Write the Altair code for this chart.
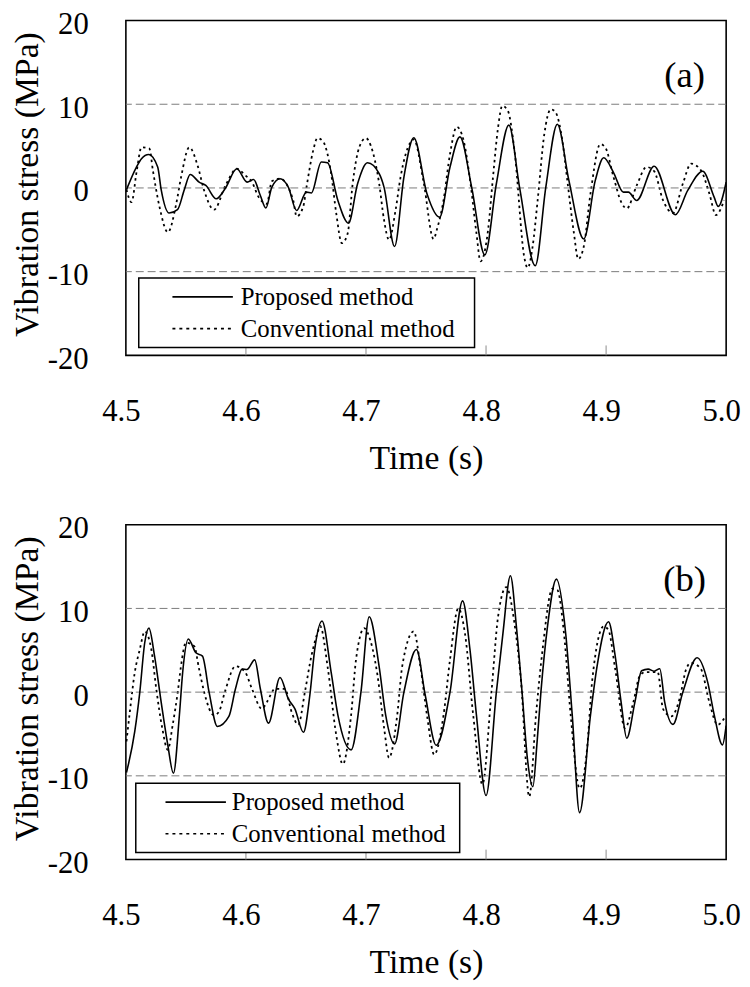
import altair as alt
import pandas as pd

# ---------------- data ----------------
TIME_TICKS = [4.5, 4.6, 4.7, 4.8, 4.9, 5.0]
INNER_TICKS = [4.6, 4.7, 4.8, 4.9]
STRESS_TICKS = [-20, -10, 0, 10, 20]
GRID_LEVELS = [-10, 0, 10]
LEGEND_LABELS = ["Proposed method", "Conventional method"]
PANEL_LABELS = ["(a)", "(b)"]

# Panel (a) - proposed method (solid)
A_PROP_T = [4.5005, 4.5088, 4.513, 4.519, 4.5265, 4.5294, 4.536, 4.543, 4.5487, 4.5536,
            4.561, 4.5666, 4.5753, 4.583, 4.5924, 4.601, 4.6064, 4.612, 4.6166, 4.6216,
            4.6284, 4.6353, 4.6422, 4.6504, 4.6545, 4.6628, 4.668, 4.6766, 4.6854, 4.693,
            4.7013, 4.711, 4.715, 4.7238, 4.7316, 4.7398, 4.7508, 4.7613, 4.770, 4.7783,
            4.788, 4.799, 4.8086, 4.819, 4.828, 4.841, 4.8498, 4.8594, 4.869, 4.8814,
            4.891, 4.898, 4.906, 4.9144, 4.9186, 4.9255, 4.940, 4.9577, 4.968, 4.9805,
            4.990, 4.9934, 5.000]
A_PROP_V = [-0.2, 2.5, 3.5, 4.0, 2.5, -0.2, -3.0, -2.6, -0.2, 1.6,
            0.7, 0.3, -1.3, 0.0, 2.3, 0.7, 1.0, -0.9, -2.4, 0.1,
            1.1, 0.1, -2.7, -0.5, -0.6, 3.1, 3.0, -1.5, -4.2, 0.5,
            3.0, 1.7, 0.1, -7.0, 1.3, 6.0, -0.7, -3.5, 2.5, 6.1,
            0.1, -8.0, 0.5, 7.5, 0.0, -9.3, 0.1, 7.6, 0.9, -6.1,
            0.9, 3.6, 1.9, -0.5, -0.5, -1.5, 2.6, -3.2, -0.3, 2.0,
            -1.1, -2.2, 0.7]

# Panel (a) - conventional method (dotted)
A_CONV_T = [4.5005, 4.5047, 4.509, 4.513, 4.5196, 4.5225, 4.528, 4.535, 4.5418, 4.546,
            4.5528, 4.5597, 4.5652, 4.5734, 4.583, 4.5924, 4.5995, 4.605, 4.6106, 4.6174,
            4.6216, 4.6284, 4.6394, 4.6422, 4.6477, 4.6504, 4.656, 4.6595, 4.6642, 4.671,
            4.6752, 4.6799, 4.6848, 4.6889, 4.6944, 4.6999, 4.704, 4.711, 4.715, 4.7192,
            4.7247, 4.7288, 4.737, 4.7398, 4.748, 4.7563, 4.759, 4.7646, 4.770, 4.7756,
            4.7811, 4.7871, 4.792, 4.7954, 4.8017, 4.8058, 4.810, 4.8135, 4.8182, 4.8237,
            4.832, 4.8347, 4.8388, 4.843, 4.8485, 4.854, 4.8581, 4.8636, 4.8677, 4.8732,
            4.8768, 4.8814, 4.887, 4.8952, 4.8993, 4.9062, 4.9125, 4.9172, 4.9255, 4.9337,
            4.940, 4.9474, 4.9557, 4.9639, 4.9708, 4.979, 4.986, 4.9915, 4.9983]
A_CONV_V = [-0.2, -1.7, 2.0, 4.85, 4.7, 2.1, -2.25, -5.3, -2.0, 1.3,
            4.85, 2.7, -0.3, -2.6, 0.3, 2.3, 1.5, 0.7, -1.1, -1.9,
            0.8, 1.1, -1.5, -3.4, -2.25, 0.05, 4.46, 5.95, 5.56, 1.7,
            -3.0, -6.6, -5.4, 0.5, 4.85, 5.95, 5.05, 0.5, -3.8, -6.2,
            -2.6, 1.3, 5.44, 5.8, 0.7, -6.1, -5.0, -1.46, 4.06, 7.3,
            5.8, 0.5, -5.4, -8.76, -5.0, 1.3, 7.2, 9.8, 9.2, 4.46,
            -8.4, -9.55, -7.0, -1.46, 6.4, 9.4, 9.0, 5.6, 0.9, -5.4,
            -8.5, -7.0, -0.67, 5.24, 4.85, 1.3, -1.66, -2.45, 0.3, 2.5,
            2.0, -1.46, -3.0, 0.5, 2.9, 2.1, -0.67, -3.24, -1.46]

# Panel (b) - proposed method (solid)
B_PROP_T = [4.5005, 4.5074, 4.5116, 4.5157, 4.5192, 4.5239, 4.5294, 4.5349, 4.5396, 4.5446,
            4.5473, 4.552, 4.5583, 4.5638, 4.5693, 4.5762, 4.5858, 4.5913, 4.5968, 4.6009,
            4.6073, 4.612, 4.6188, 4.6284, 4.6353, 4.6408, 4.6479, 4.6532, 4.6573, 4.6634,
            4.671, 4.6766, 4.6876, 4.6958, 4.7027, 4.7109, 4.7164, 4.7238, 4.7316, 4.742,
            4.7494, 4.7585, 4.770, 4.7805, 4.7866, 4.792, 4.800, 4.8086, 4.8141, 4.8203,
            4.8255, 4.830, 4.8345, 4.839, 4.8425, 4.8457, 4.8512, 4.8586, 4.8663, 4.8718,
            4.8779, 4.887, 4.8925, 4.902, 4.9076, 4.9125, 4.9172, 4.924, 4.9296, 4.935,
            4.940, 4.9447, 4.9488, 4.9557, 4.9639, 4.9758, 4.9846, 4.9901, 4.9969, 5.000]
B_PROP_V = [-9.6, -4.7, 0.0, 5.9, 7.65, 4.3, -1.2, -6.3, -9.7, -2.7,
            2.35, 6.35, 4.7, 4.3, 0.0, -4.1, -2.9, 0.4, 2.75, 2.7,
            3.85, 0.4, -3.7, 1.75, -0.8, -2.0, -4.8, -0.4, 5.1, 8.5,
            2.35, -2.75, -6.9, 0.0, 9.0, 3.1, -2.75, -6.2, 0.0, 5.1,
            -0.4, -6.35, 0.0, 10.9, 5.1, -2.75, -12.35, 0.0, 7.06, 13.9,
            7.5, 0.0, -8.0, -11.3, -6.0, 0.0, 7.85, 13.5, 7.06, -2.75,
            -14.4, -2.75, 3.1, 8.4, 4.3, -1.2, -5.5, -1.2, 2.55, 2.75,
            2.5, 2.8, -1.2, -3.85, 0.0, 4.1, 1.2, -2.75, -6.3, -4.0]

# Panel (b) - conventional method (dotted)
B_CONV_T = [4.5005, 4.5033, 4.5074, 4.5116, 4.5157, 4.5212, 4.5253, 4.5303, 4.5349, 4.539,
            4.5432, 4.5459, 4.550, 4.5569, 4.561, 4.5652, 4.5734, 4.5775, 4.5824, 4.5913,
            4.5995, 4.605, 4.6133, 4.6174, 4.6243, 4.6325, 4.638, 4.6436, 4.6491, 4.6545,
            4.660, 4.6618, 4.6683, 4.6752, 4.6807, 4.6876, 4.6917, 4.6986, 4.7013, 4.7096,
            4.7151, 4.7192, 4.726, 4.7302, 4.7398, 4.7453, 4.7508, 4.7568, 4.7646, 4.770,
            4.7769, 4.7824, 4.7893, 4.797, 4.8045, 4.810, 4.8168, 4.8237, 4.8292, 4.836,
            4.8416, 4.8471, 4.8553, 4.8594, 4.8649, 4.8705, 4.878, 4.8842, 4.8883, 4.898,
            4.902, 4.9076, 4.9158, 4.9227, 4.9282, 4.933, 4.943, 4.9474, 4.9543, 4.9612,
            4.9667, 4.9708, 4.979, 4.986, 4.9928, 5.000]
B_CONV_V = [-5.9, -2.35, 2.35, 5.1, 7.25, 5.1, 0.4, -4.3, -6.9, -3.9,
            0.0, 3.1, 5.9, 5.5, 2.75, 0.0, -2.75, -2.35, 0.0, 3.1,
            2.35, 0.4, -2.0, -1.2, 0.4, 0.4, -2.35, -3.9, 0.0, 4.3,
            7.25, 7.9, 2.75, -5.1, -8.6, -2.75, 3.9, 7.65, 7.1, 2.0,
            -4.3, -7.85, -2.75, 3.1, 7.25, 3.1, -2.75, -7.45, -2.75, 3.9,
            10.0, 7.06, -2.75, -11.0, 0.0, 9.0, 12.55, 8.2, 1.2, -12.5,
            -2.75, 5.1, 12.35, 12.2, 7.06, -2.75, -11.5, -6.7, 1.2, 7.85,
            7.4, 2.75, -4.3, -1.2, 2.0, 2.4, 2.4, -2.0, -2.9, -0.8,
            2.75, 3.5, 2.75, -1.2, -3.9, -2.75]

# ---------------- styling ----------------
W, H = 606, 338
FONT = "Liberation Serif"

xscale = alt.Scale(domain=[4.5, 5.0], nice=False, zero=False)
yscale = alt.Scale(domain=[-20, 20], nice=False, zero=False)

LEGENDS = [
    dict(x0=13, x1=352, y0=260, y1=330, s0=47, s1=108, ly0=279, ly1=311, tx=116),
    dict(x0=10, x1=337, y0=261, y1=331, s0=40, s1=101, ly0=280, ly1=312, tx=107),
]


def panel(prop_t, prop_v, conv_t, conv_v, label, leg):
    prop = pd.DataFrame({"t": prop_t, "v": prop_v})
    conv = pd.DataFrame({"t": conv_t, "v": conv_v})
    one = pd.DataFrame({"k": [0]})

    common = dict(ticks=False, tickSize=0, domain=False, grid=False, labelFlush=False,
                  labelOverlap=False,
                  labelFontSize=31, labelFont=FONT, labelColor="black",
                  titleFontSize=34, titleFont=FONT, titleFontWeight="normal",
                  titleColor="black")
    xaxis = alt.Axis(values=TIME_TICKS, format=".1f", title="Time (s)",
                     labelBaseline="top", labelPadding=42, labelOffset=-5,
                     titleBaseline="alphabetic", titleY=114, **common)
    yaxis = alt.Axis(values=STRESS_TICKS, labelExpr="'' + datum.value",
                     title="Vibration stress (MPa)",
                     labelAlign="right", labelBaseline="middle", labelPadding=38,
                     labelOffset=4, titleAngle=270, titleAlign="center",
                     titleBaseline="middle", titleX=-99, titleY=165, **common)

    conv_line = alt.Chart(conv).mark_line(
        color="black", strokeWidth=1.8, strokeDash=[2.5, 3.5],
        interpolate="monotone", clip=True
    ).encode(x=alt.X("t:Q", scale=xscale, axis=xaxis),
             y=alt.Y("v:Q", scale=yscale, axis=yaxis))

    grid = alt.Chart(pd.DataFrame({"v": GRID_LEVELS})).mark_rule(
        color="#7a7a7a", strokeDash=[8, 4], strokeWidth=1
    ).encode(y=alt.Y("v:Q"))

    ticks = alt.Chart(pd.DataFrame({"t": INNER_TICKS})).mark_rule(
        color="#8c8c8c", strokeWidth=1
    ).encode(x=alt.X("t:Q"), y=alt.value(H - 10), y2=alt.value(H))

    prop_line = alt.Chart(prop).mark_line(
        color="black", strokeWidth=1.6, interpolate="monotone", clip=True
    ).encode(x=alt.X("t:Q"), y=alt.Y("v:Q"))

    box = alt.Chart(one).mark_rect(fill="white", stroke="black", strokeWidth=1.5).encode(
        x=alt.value(leg["x0"]), x2=alt.value(leg["x1"]),
        y=alt.value(leg["y0"]), y2=alt.value(leg["y1"]))
    s_solid = alt.Chart(one).mark_rule(color="black", strokeWidth=1.6).encode(
        x=alt.value(leg["s0"]), x2=alt.value(leg["s1"]), y=alt.value(leg["ly0"]))
    s_dot = alt.Chart(one).mark_rule(color="black", strokeWidth=1.6,
                                     strokeDash=[3, 4]).encode(
        x=alt.value(leg["s0"]), x2=alt.value(leg["s1"]), y=alt.value(leg["ly1"]))
    t1 = alt.Chart(one).mark_text(align="left", baseline="middle", fontSize=25,
                                  font=FONT, color="black").encode(
        x=alt.value(leg["tx"]), y=alt.value(leg["ly0"]), text=alt.value(LEGEND_LABELS[0]))
    t2 = alt.Chart(one).mark_text(align="left", baseline="middle", fontSize=25,
                                  font=FONT, color="black").encode(
        x=alt.value(leg["tx"]), y=alt.value(leg["ly1"]), text=alt.value(LEGEND_LABELS[1]))

    plabel = alt.Chart(one).mark_text(align="center", baseline="middle", fontSize=37,
                                      font=FONT, color="black").encode(
        x=alt.value(564), y=alt.value(56), text=alt.value(label))

    return alt.layer(conv_line, grid, ticks, prop_line, box, s_solid, s_dot, t1, t2,
                     plabel).properties(width=W, height=H)


pa = panel(A_PROP_T, A_PROP_V, A_CONV_T, A_CONV_V, PANEL_LABELS[0], LEGENDS[0])
pb = panel(B_PROP_T, B_PROP_V, B_CONV_T, B_CONV_V, PANEL_LABELS[1], LEGENDS[1])

chart = alt.vconcat(pa, pb, spacing=171, bounds="flush").properties(
    padding={"left": 2, "top": -5, "right": 0, "bottom": 0}
).configure(font=FONT).configure_view(
    stroke="black", strokeWidth=1.6
)

chart.save("out.html", embed_options={"renderer": "svg", "actions": False})
